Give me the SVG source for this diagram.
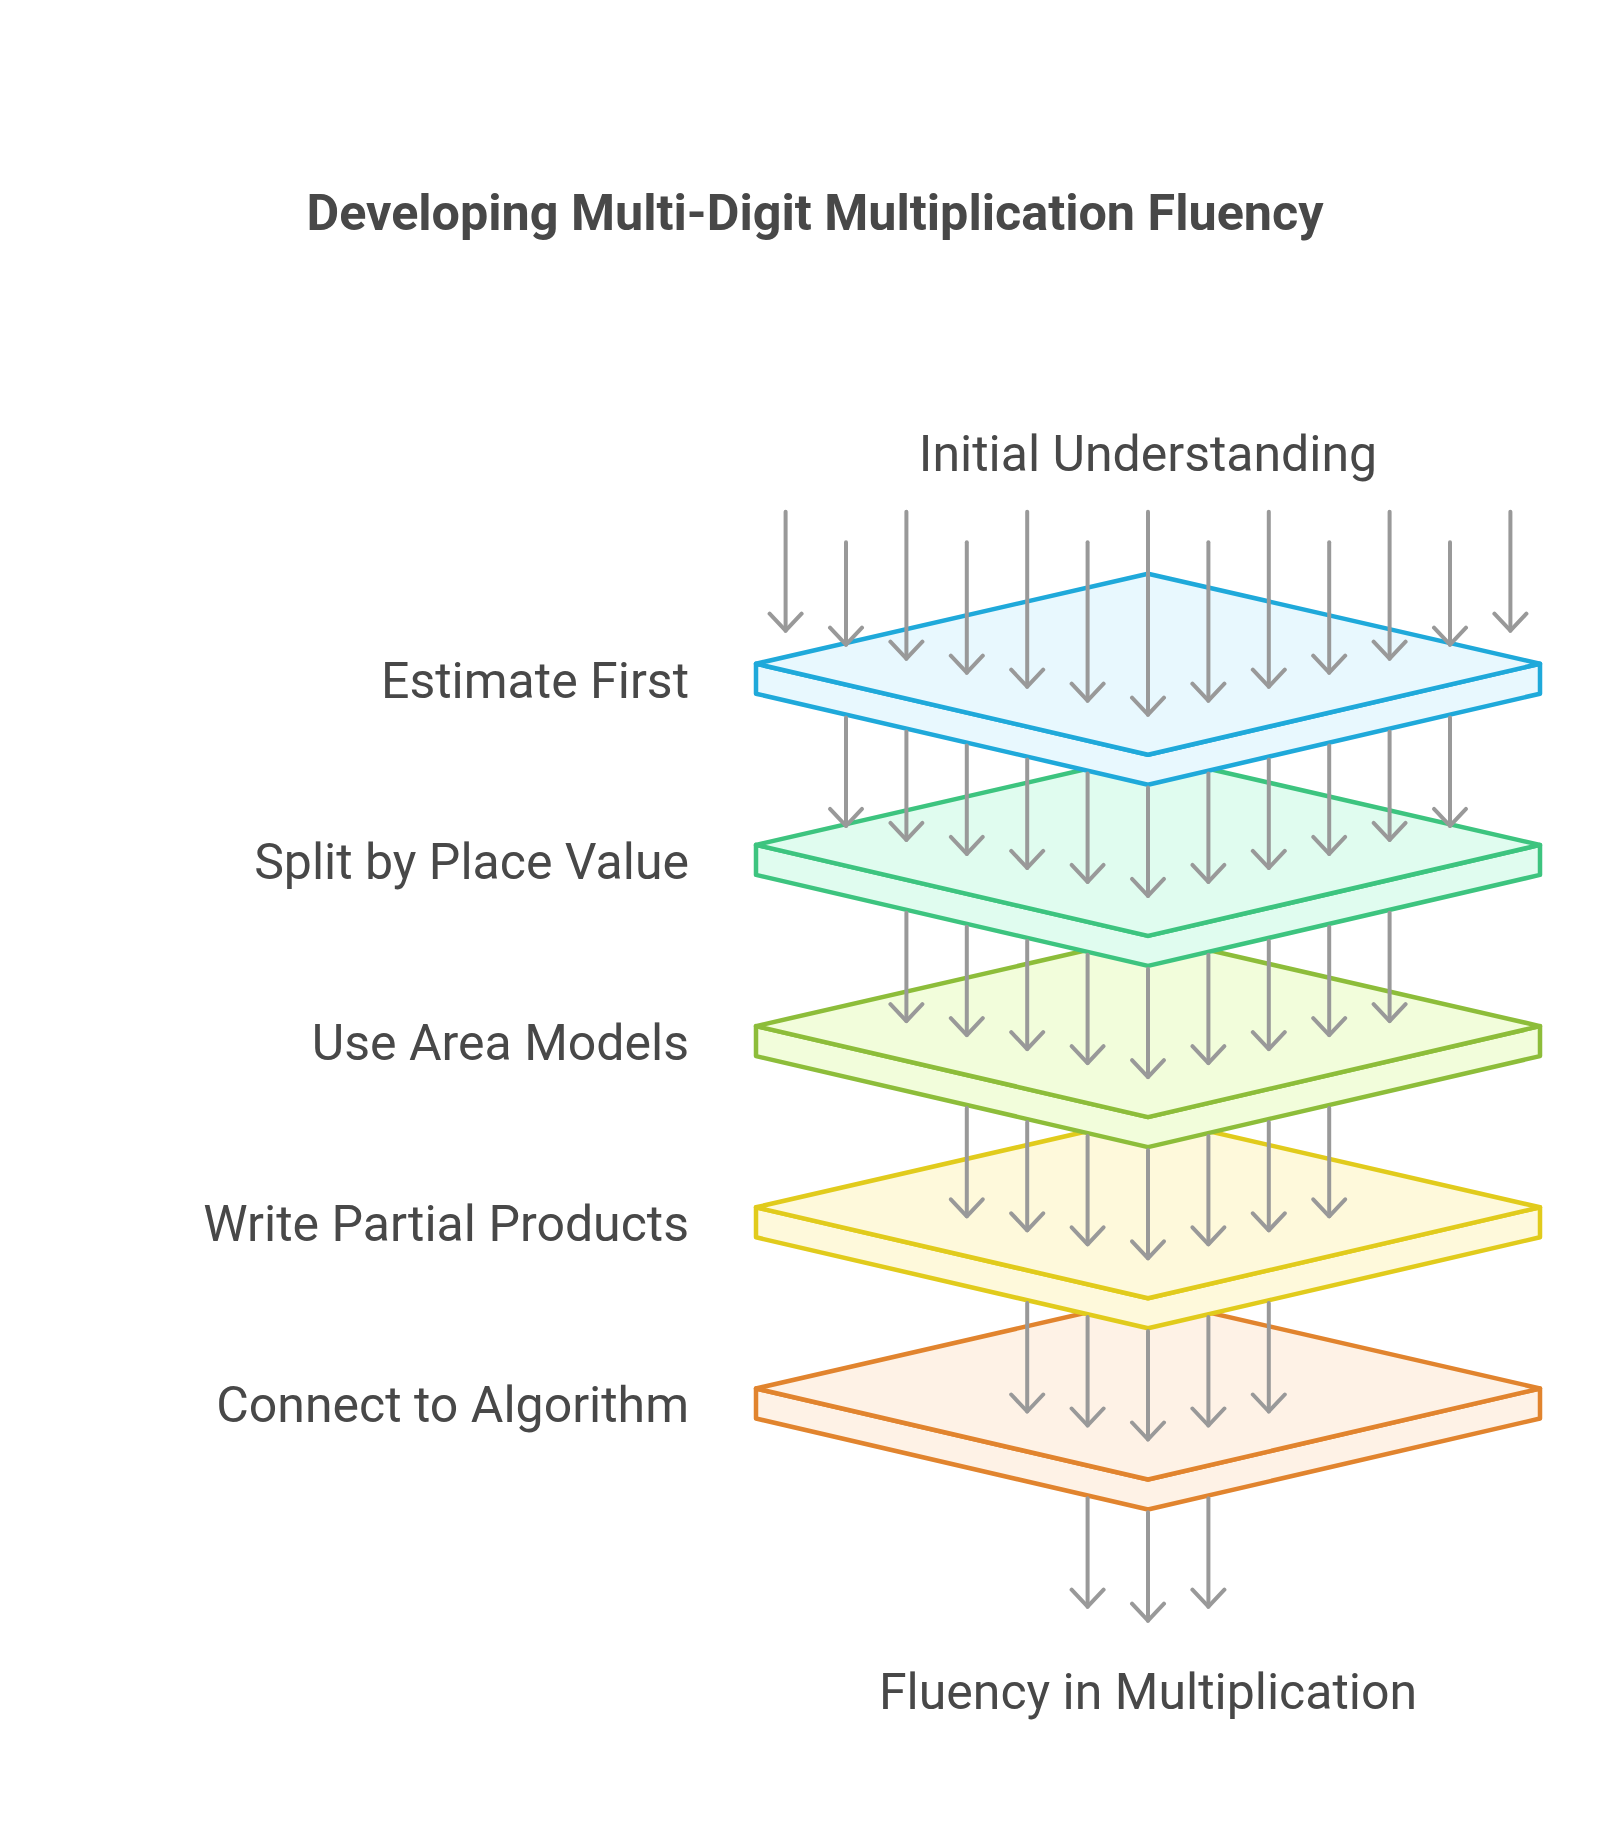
<svg xmlns="http://www.w3.org/2000/svg" width="1600" height="1842" viewBox="0 0 1600 1842">
<style>
text{font-family:Roboto,"Liberation Sans",sans-serif;fill:#484848}
.t{font-size:50.3px;font-weight:bold;text-anchor:middle}
.lab{font-size:50px;text-anchor:end}
.mid{font-size:50px;text-anchor:middle}
.plate path{stroke-width:4.5;stroke-linejoin:round}
.p0 path{stroke:#1fa9da;fill:#e8f8fe}
.p1 path{stroke:#3dc47f;fill:#e0fcef}
.p2 path{stroke:#8dbd3a;fill:#f2fddb}
.p3 path{stroke:#e1cb1c;fill:#fef9db}
.p4 path{stroke:#e1842e;fill:#fef2e6}
.conn line{stroke:#999;stroke-width:4;stroke-linecap:round;marker-end:url(#chev)}
</style>
<defs>
<marker id="chev" markerUnits="userSpaceOnUse" viewBox="-20 -20 40 40" markerWidth="40" markerHeight="40" refX="0" refY="0" orient="auto">
<path d="M-17,-16 L0,0 L-17,16" fill="none" stroke="#999" stroke-width="4" stroke-linecap="round" stroke-linejoin="round"/>
</marker>
</defs>
<rect width="1600" height="1842" fill="#fff"/>
<text class="t" x="815" y="230">Developing Multi-Digit Multiplication Fluency</text>
<g id="initial"><text class="mid" x="1148" y="471">Initial Understanding</text></g>
<g id="plate-connect" class="plate p4">
<path d="M756,1388.5 L756,1418.5 L1148,1509.5 L1540,1418.5 L1540,1388.5 L1148,1479.5 Z"/>
<path d="M756,1388.5 L1148,1298.5 L1540,1388.5 L1148,1479.5 Z"/>
</g>
<g id="plate-write" class="plate p3">
<path d="M756,1207.3 L756,1237.3 L1148,1328.3 L1540,1237.3 L1540,1207.3 L1148,1298.3 Z"/>
<path d="M756,1207.3 L1148,1117.3 L1540,1207.3 L1148,1298.3 Z"/>
</g>
<g id="plate-area" class="plate p2">
<path d="M756,1026.1 L756,1056.1 L1148,1147.1 L1540,1056.1 L1540,1026.1 L1148,1117.1 Z"/>
<path d="M756,1026.1 L1148,936.1 L1540,1026.1 L1148,1117.1 Z"/>
</g>
<g id="plate-split" class="plate p1">
<path d="M756,844.9 L756,874.9 L1148,965.9 L1540,874.9 L1540,844.9 L1148,935.9 Z"/>
<path d="M756,844.9 L1148,754.9 L1540,844.9 L1148,935.9 Z"/>
</g>
<g id="plate-estimate" class="plate p0">
<path d="M756,663.7 L756,693.7 L1148,784.7 L1540,693.7 L1540,663.7 L1148,754.7 Z"/>
<path d="M756,663.7 L1148,573.7 L1540,663.7 L1148,754.7 Z"/>
</g>
<g id="connectors" class="conn">
<line x1="785.6" y1="511.7" x2="785.6" y2="630.7"/>
<line x1="846" y1="542.3" x2="846" y2="644.7"/>
<line x1="906.4" y1="511.7" x2="906.4" y2="658.7"/>
<line x1="966.8" y1="542.3" x2="966.8" y2="672.7"/>
<line x1="1027.2" y1="511.7" x2="1027.2" y2="686.7"/>
<line x1="1087.6" y1="542.3" x2="1087.6" y2="700.7"/>
<line x1="1148" y1="511.7" x2="1148" y2="714.7"/>
<line x1="1208.4" y1="542.3" x2="1208.4" y2="700.7"/>
<line x1="1268.8" y1="511.7" x2="1268.8" y2="686.7"/>
<line x1="1329.2" y1="542.3" x2="1329.2" y2="672.7"/>
<line x1="1389.6" y1="511.7" x2="1389.6" y2="658.7"/>
<line x1="1450" y1="542.3" x2="1450" y2="644.7"/>
<line x1="1510.4" y1="511.7" x2="1510.4" y2="630.7"/>

<line x1="846" y1="717.5" x2="846" y2="825.9"/>
<line x1="906.4" y1="731.5" x2="906.4" y2="839.9"/>
<line x1="966.8" y1="745.5" x2="966.8" y2="853.9"/>
<line x1="1027.2" y1="759.5" x2="1027.2" y2="867.9"/>
<line x1="1087.6" y1="773.5" x2="1087.6" y2="881.9"/>
<line x1="1148" y1="787.5" x2="1148" y2="895.9"/>
<line x1="1208.4" y1="773.5" x2="1208.4" y2="881.9"/>
<line x1="1268.8" y1="759.5" x2="1268.8" y2="867.9"/>
<line x1="1329.2" y1="745.5" x2="1329.2" y2="853.9"/>
<line x1="1389.6" y1="731.5" x2="1389.6" y2="839.9"/>
<line x1="1450" y1="717.5" x2="1450" y2="825.9"/>

<line x1="906.4" y1="912.7" x2="906.4" y2="1021.1"/>
<line x1="966.8" y1="926.7" x2="966.8" y2="1035.1"/>
<line x1="1027.2" y1="940.7" x2="1027.2" y2="1049.1"/>
<line x1="1087.6" y1="954.7" x2="1087.6" y2="1063.1"/>
<line x1="1148" y1="968.7" x2="1148" y2="1077.1"/>
<line x1="1208.4" y1="954.7" x2="1208.4" y2="1063.1"/>
<line x1="1268.8" y1="940.7" x2="1268.8" y2="1049.1"/>
<line x1="1329.2" y1="926.7" x2="1329.2" y2="1035.1"/>
<line x1="1389.6" y1="912.7" x2="1389.6" y2="1021.1"/>

<line x1="966.8" y1="1107.9" x2="966.8" y2="1216.3"/>
<line x1="1027.2" y1="1121.9" x2="1027.2" y2="1230.3"/>
<line x1="1087.6" y1="1135.9" x2="1087.6" y2="1244.3"/>
<line x1="1148" y1="1149.9" x2="1148" y2="1258.3"/>
<line x1="1208.4" y1="1135.9" x2="1208.4" y2="1244.3"/>
<line x1="1268.8" y1="1121.9" x2="1268.8" y2="1230.3"/>
<line x1="1329.2" y1="1107.9" x2="1329.2" y2="1216.3"/>

<line x1="1027.2" y1="1303.1" x2="1027.2" y2="1411.5"/>
<line x1="1087.6" y1="1317.1" x2="1087.6" y2="1425.5"/>
<line x1="1148" y1="1331.1" x2="1148" y2="1439.5"/>
<line x1="1208.4" y1="1317.1" x2="1208.4" y2="1425.5"/>
<line x1="1268.8" y1="1303.1" x2="1268.8" y2="1411.5"/>

<line x1="1087.6" y1="1498.3" x2="1087.6" y2="1606.7"/>
<line x1="1148" y1="1512.3" x2="1148" y2="1620.7"/>
<line x1="1208.4" y1="1498.3" x2="1208.4" y2="1606.7"/>
</g>
<g id="labels">
<text class="lab" x="689" y="698">Estimate First</text>
<text class="lab" x="689" y="879">Split by Place Value</text>
<text class="lab" x="689" y="1060">Use Area Models</text>
<text class="lab" x="689" y="1241">Write Partial Products</text>
<text class="lab" x="689" y="1422">Connect to Algorithm</text>
</g>
<g id="fluency"><text class="mid" x="1148" y="1709">Fluency in Multiplication</text></g>
</svg>
